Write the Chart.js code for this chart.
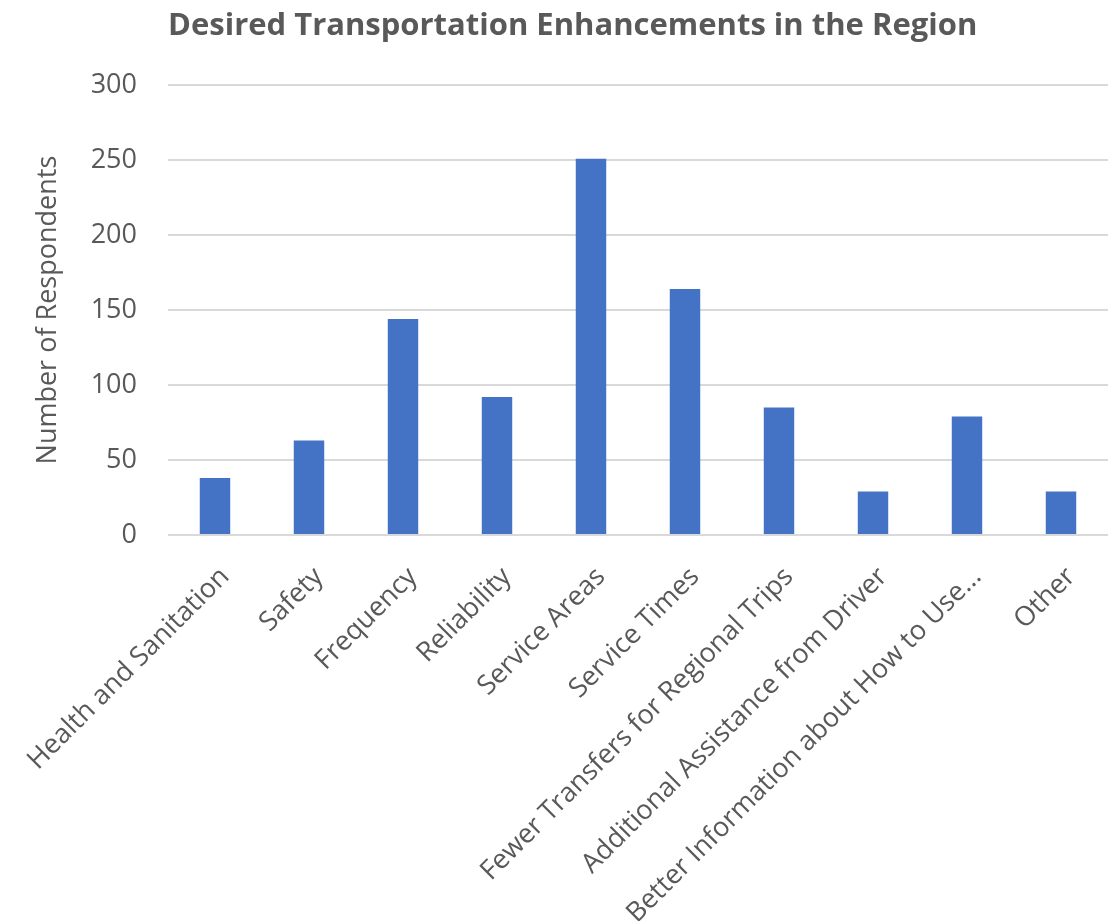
<!DOCTYPE html>
<html>
<head>
<meta charset="utf-8">
<script src="https://cdn.jsdelivr.net/npm/chart.js@4"></script>
<style>
  html, body { margin: 0; padding: 0; background: #fff; }
  #wrap { width: 1110px; height: 921px; }
</style>
</head>
<body>
<div id="wrap"><canvas id="enhChart" width="1110" height="921"></canvas></div>
<script>
const categories = [
    'Health and Sanitation', 'Safety', 'Frequency', 'Reliability', 'Service Areas',
    'Service Times', 'Fewer Transfers for Regional Trips', 'Additional Assistance from Driver',
    'Better Information about How to Use...', 'Other'
];
const respondents = [38, 63, 144, 92, 251, 164, 85, 29, 79, 29];
const yTicks = [0, 50, 100, 150, 200, 250, 300];

const FONT = "'Open Sans', 'Noto Sans', sans-serif";
const GREY = '#595959';

// move the title so it starts near the plot's left edge, like the original
const titlePlace = {
    id: 'titlePlace',
    afterLayout: function(chart) {
        if (chart.titleBlock) {
            chart.titleBlock.left = 168;
        }
    }
};

const ctx = document.getElementById('enhChart').getContext('2d');

new Chart(ctx, {
    type: 'bar',
    data: {
        labels: categories,
        datasets: [{
            label: 'Number of Respondents',
            data: respondents,
            backgroundColor: '#4472C4',
            borderWidth: 0,
            barPercentage: 0.9,
            categoryPercentage: 0.36
        }]
    },
    options: {
        responsive: false,
        animation: false,
        layout: { padding: { left: 0, right: 2, top: 0, bottom: 0 } },
        plugins: {
            legend: { display: false },
            tooltip: { enabled: false },
            title: {
                display: true,
                text: 'Desired Transportation Enhancements in the Region',
                align: 'start',
                color: GREY,
                font: { family: FONT, size: 31, weight: 'bold' },
                padding: { top: 8, bottom: 40 }
            }
        },
        scales: {
            x: {
                grid: { display: false },
                border: { display: false },
                ticks: {
                    color: GREY,
                    font: { family: FONT, size: 27 },
                    minRotation: 45,
                    maxRotation: 45,
                    autoSkip: false,
                    padding: 18,
                    labelOffset: 10
                },
                afterFit: function(s) {
                    s.height = 386;
                    s.paddingLeft = 0;
                    s.paddingRight = 0;
                }
            },
            y: {
                min: 0,
                max: 300,
                afterBuildTicks: function(s) {
                    s.ticks = yTicks.map(v => ({ value: v }));
                },
                grid: { color: '#d9d9d9', lineWidth: 2, drawTicks: false },
                border: { display: false },
                ticks: {
                    color: GREY,
                    font: { family: FONT, size: 27 },
                    padding: 31
                },
                title: {
                    display: true,
                    text: 'Number of Respondents',
                    color: GREY,
                    font: { family: FONT, size: 27 },
                    padding: { top: 32, bottom: 0 }
                },
                afterFit: function(s) { s.width = 168; }
            }
        }
    },
    plugins: [titlePlace]
});
</script>
</body>
</html>
